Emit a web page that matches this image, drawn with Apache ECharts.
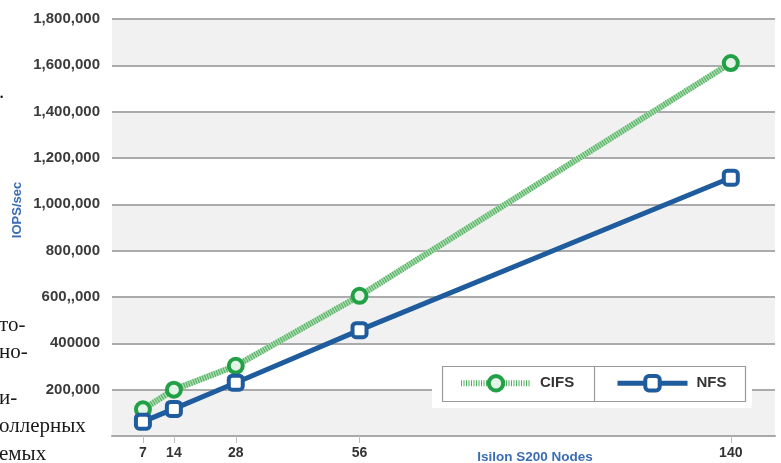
<!DOCTYPE html>
<html>
<head>
<meta charset="utf-8">
<script src="https://cdn.jsdelivr.net/npm/echarts@6/dist/echarts.min.js"></script>
<style>
  html, body { margin: 0; padding: 0; background: #fff; }
  #chart { width: 781px; height: 463px; }
</style>
</head>
<body>
<div id="chart"></div>
<script>
// Cluster size (Isilon S200 nodes) and measured throughput
const nodes = [7, 14, 28, 56, 140];
const cifsIops = [115000, 200000, 303000, 605000, 1610000];
const nfsIops = [62000, 117000, 230000, 457000, 1115000];

// Printed y tick labels, bottom to top (every 200,000)
const yTickLabels = ['', '200,000', '400000', '600,,000', '800,000', '1,000,000',
  '1,200,000', '1,400,000', '1,600,000', '1,800,000'];

// Fragments of the neighbouring column text
const sideText = [
  { text: '.', y: 92 },
  { text: 'то-', y: 325 },
  { text: 'но-', y: 352 },
  { text: 'и-', y: 398 },
  { text: 'оллерных', y: 426 },
  { text: 'емых', y: 454 }
];

const cifsPairs = nodes.map((n, i) => [n, cifsIops[i]]);
const nfsPairs = nodes.map((n, i) => [n, nfsIops[i]]);

const labelFont = '"Liberation Sans", Arial, sans-serif';
const green = '#22a045';
const blue = '#1f5c9e';

const cifsLine = { color: '#4fae5f', width: 6, type: [1, 1.5], cap: 'butt' };
const cifsItem = { color: '#e4f4e6', borderColor: green, borderWidth: 4 };
const nfsLine = { color: blue, width: 5 };
const nfsItem = { color: '#ffffff', borderColor: blue, borderWidth: 4 };

const chart = echarts.init(document.getElementById('chart'), null, { renderer: 'canvas' });

const legendCommon = {
  top: 374,
  padding: 0,
  orient: 'horizontal',
  itemWidth: 70,
  itemHeight: 18,
  z: 10,
  selectedMode: false,
  textStyle: {
    fontFamily: labelFont, fontWeight: 'bold', fontSize: 15, color: '#333',
    padding: [4, 0, 0, 4]
  }
};

chart.setOption({
  animation: false,
  backgroundColor: '#fff',
  grid: { left: 112, right: 6, top: 19, bottom: 27, containLabel: false },
  xAxis: {
    type: 'value',
    min: 0,
    max: 150,
    splitLine: { show: false },
    axisLine: { show: true, onZero: false, lineStyle: { color: '#a9a9a9', width: 2 } },
    axisTick: {
      show: true, customValues: nodes, length: 7, inside: false,
      lineStyle: { color: '#bdbdbd', width: 1 }
    },
    axisLabel: {
      customValues: nodes, margin: 10,
      fontFamily: labelFont, fontWeight: 'bold', fontSize: 14, color: '#333'
    }
  },
  yAxis: {
    type: 'value',
    min: 0,
    max: 1800000,
    interval: 200000,
    axisLine: { show: false },
    axisTick: { show: false },
    axisLabel: {
      margin: 12,
      fontFamily: labelFont, fontWeight: 'bold', fontSize: 15, color: '#3b3b3b',
      formatter: v => yTickLabels[Math.round(v / 200000)]
    },
    splitLine: { show: true, lineStyle: { color: '#ababab', width: 2 } },
    splitArea: { show: true, areaStyle: { color: ['#f1f1f1', '#ffffff'] } }
  },
  legend: [
    Object.assign({}, legendCommon, {
      left: 458,
      data: [{ name: 'CIFS', lineStyle: cifsLine, itemStyle: cifsItem }]
    }),
    Object.assign({}, legendCommon, {
      left: 615,
      data: [{ name: 'NFS', lineStyle: nfsLine, itemStyle: nfsItem }]
    })
  ],
  graphic: [
    // white pad and framed two-cell box behind the legend
    { type: 'rect', z: 3, shape: { x: 432, y: 358, width: 320, height: 50 },
      style: { fill: '#ffffff' } },
    { type: 'rect', z: 4, shape: { x: 442.5, y: 366.5, width: 303, height: 35 },
      style: { fill: '#ffffff', stroke: '#9a9a9a', lineWidth: 1.2 } },
    { type: 'line', z: 4, shape: { x1: 594.5, y1: 366.5, x2: 594.5, y2: 401.5 },
      style: { stroke: '#9a9a9a', lineWidth: 1.2 } },
    // axis titles
    { type: 'text', z: 5, x: 17, y: 210, rotation: Math.PI / 2,
      style: { text: 'IOPS/sec', fill: '#3a6db3', font: 'bold 13px ' + labelFont,
        align: 'center', verticalAlign: 'middle' } },
    { type: 'text', z: 5, x: 535, y: 457,
      style: { text: 'Isilon S200 Nodes', fill: '#3a6db3', font: 'bold 13.5px ' + labelFont,
        align: 'center', verticalAlign: 'middle' } }
  ].concat(sideText.map(t => ({
    type: 'text', z: 5, x: -1, y: t.y,
    style: { text: t.text, fill: '#1a1a1a', font: '21px "Liberation Serif", serif',
      align: 'left', verticalAlign: 'middle' }
  }))),
  series: [
    {
      // pale under-stroke of the hatched CIFS line
      name: 'CIFS-base',
      type: 'line',
      data: cifsPairs,
      showSymbol: false,
      silent: true,
      z: 2,
      lineStyle: { color: '#a8dbae', width: 6 }
    },
    {
      name: 'CIFS',
      type: 'line',
      data: cifsPairs,
      z: 3,
      symbol: 'circle',
      symbolSize: 14,
      lineStyle: cifsLine,
      itemStyle: cifsItem
    },
    {
      name: 'NFS',
      type: 'line',
      data: nfsPairs,
      z: 4,
      symbol: 'roundRect',
      symbolSize: 14,
      lineStyle: nfsLine,
      itemStyle: nfsItem
    }
  ]
});
</script>
</body>
</html>
